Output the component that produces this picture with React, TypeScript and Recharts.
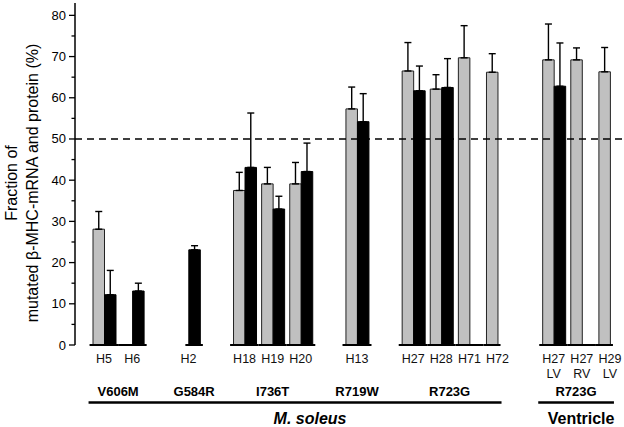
import React from 'react';
import { BarChart, Bar, XAxis, YAxis, ErrorBar, ReferenceLine } from 'recharts';

// patient samples, '' = empty slot between mutation groups
const samples = ['H5', 'H6', '', 'H2', '', 'H18', 'H19', 'H20', '', 'H13', '', 'H27', 'H28', 'H71', 'H72', '', 'H27', 'H27', 'H29'];
const subLabels = ['', '', '', '', '', '', '', '', '', '', '', '', '', '', '', '', 'LV', 'RV', 'LV'];

// grey = mRNA, black = protein (%)
const greyValues = [28.1, null, null, null, null, 37.5, 39.1, 39.1, null, 57.3, null, 66.5, 62.1, 69.7, 66.2, null, 69.2, 69.2, 66.3];
const greyErrors = [4.3, null, null, null, null, 4.4, 4.0, 5.2, null, 5.3, null, 6.9, 3.5, 7.8, 4.5, null, 8.7, 2.9, 5.9];
const blackValues = [12.2, 13.1, null, 23.1, null, 43.1, 33.0, 42.1, null, 54.2, null, 61.7, 62.5, null, null, null, 62.8, null, null];
const blackErrors = [5.9, 1.9, null, 1.0, null, 13.2, 3.1, 6.9, null, 6.8, null, 6.0, 7.0, null, null, null, 10.5, null, null];

const mutations = ['V606M', 'G584R', 'I736T', 'R719W', 'R723G', 'R723G'];
const mutationFrom = [0, 3, 5, 9, 11, 16];
const mutationTo = [1, 3, 7, 9, 14, 18];

const tissues = ['M. soleus', 'Ventricle'];
const tissueFrom = [0, 16];
const tissueTo = [14, 18];

const yTicks = [0, 5, 10, 15, 20, 25, 30, 35, 40, 45, 50, 55, 60, 65, 70, 75, 80];

// layout
const W = 624;
const H = 427;
const TOP = 3;
const AXIS_W = 75;
const XAXIS_H = 82;
const PAD_L = 15;
const BAND = (W - AXIS_W - PAD_L) / samples.length;
const BAR = 11.5;
const TISSUE_SHIFT = [15, 5];
const FONT = '"Liberation Sans", Arial, sans-serif';

const chartData = samples.map((name, i) => ({
  name,
  sub: subLabels[i],
  grey: greyValues[i],
  greyErr: greyErrors[i],
  black: blackValues[i],
  blackErr: blackErrors[i],
}));

const present = (i: number) => i >= 0 && i < samples.length && samples[i] !== '';

// left / right edge of the bars drawn in slot i (centre cx)
const extent = (i: number, cx: number) => {
  const l = greyValues[i] != null ? cx - BAR : cx;
  const r = blackValues[i] != null ? cx + BAR : cx;
  return [l, r];
};

const XTick = (props: any) => {
  const { x, y, payload } = props;
  const i = props.index ?? payload.index;
  const out: React.ReactNode[] = [];

  if (present(i)) {
    const [l, r] = extent(i, x);
    const segL = present(i - 1) ? x - BAND / 2 : l - 3;
    const segR = present(i + 1) ? x + BAND / 2 : r + 3;
    out.push(<line key="base" x1={segL} x2={segR} y1={y} y2={y} stroke="#000" strokeWidth={2} />);
    out.push(
      <text key="lab" x={x} y={y + 18} textAnchor="middle" fontSize={12.5} fontFamily={FONT} fill="#111">
        {samples[i]}
      </text>
    );
    if (subLabels[i]) {
      out.push(
        <text key="sub" x={x} y={y + 32.5} textAnchor="middle" fontSize={12.5} fontFamily={FONT} fill="#111">
          {subLabels[i]}
        </text>
      );
    }
  }

  const k = mutationFrom.indexOf(i);
  if (k >= 0) {
    const l = extent(i, x)[0];
    const to = mutationTo[k];
    const r = extent(to, x + (to - i) * BAND)[1];
    out.push(
      <text key="mut" x={(l + r) / 2} y={y + 50.5} textAnchor="middle" fontSize={13} fontWeight="bold" fontFamily={FONT} fill="#000">
        {mutations[k]}
      </text>
    );
  }

  const t = tissueFrom.indexOf(i);
  if (t >= 0) {
    const l = extent(i, x)[0] - 4;
    const to = tissueTo[t];
    const r = extent(to, x + (to - i) * BAND)[1] + 4;
    out.push(<line key="tl" x1={l} x2={r} y1={y + 57.5} y2={y + 57.5} stroke="#000" strokeWidth={2.5} />);
    out.push(
      <text
        key="tt"
        x={(l + r) / 2 + TISSUE_SHIFT[t]}
        y={y + 78.5}
        textAnchor="middle"
        fontSize={16}
        fontWeight="bold"
        fontStyle={t === 0 ? 'italic' : 'normal'}
        fontFamily={FONT}
        fill="#000"
      >
        {tissues[t]}
      </text>
    );
  }

  return <g>{out}</g>;
};

const YTick = (props: any) => {
  const { x, y, payload } = props;
  const major = payload.value % 10 === 0;
  return (
    <g>
      <line x1={x - (major ? 6 : 3.5)} x2={x} y1={y} y2={y} stroke="#000" strokeWidth={1.3} />
      {major && (
        <text x={x - 9} y={y} dy={4.5} textAnchor="end" fontSize={13} fontFamily={FONT} fill="#000">
          {payload.value}
        </text>
      )}
    </g>
  );
};

const YLabel = () => {
  const cy = TOP + (H - TOP - XAXIS_H) / 2 + 9;
  return (
    <g fontSize={16} fontFamily={FONT} fill="#000">
      <text x={17} y={cy} textAnchor="middle" transform={`rotate(-90, 17, ${cy})`}>
        Fraction of
      </text>
      <text x={38} y={cy} textAnchor="middle" transform={`rotate(-90, 38, ${cy})`}>
        mutated β-MHC-mRNA and protein (%)
      </text>
    </g>
  );
};

const errRange = (key: 'greyErr' | 'blackErr') => (d: any) => (d[key] == null ? null : [0, d[key]]);

export default function App() {
  return (
    <div style={{ position: 'absolute', left: 0, top: 0, width: W, height: H, background: '#fff' }}>
      <BarChart
        width={W}
        height={H}
        data={chartData}
        margin={{ top: TOP, right: 0, bottom: 0, left: 0 }}
        barGap={0}
      >
        <XAxis
          dataKey="name"
          type="category"
          height={XAXIS_H}
          padding={{ left: PAD_L, right: 0 }}
          axisLine={false}
          tickLine={false}
          tickSize={0}
          tickMargin={0}
          interval={0}
          tick={<XTick />}
        />
        <YAxis
          width={AXIS_W}
          domain={[0, 83]}
          ticks={yTicks}
          interval={0}
          allowDataOverflow
          axisLine={{ stroke: '#000', strokeWidth: 1.5 }}
          tickLine={false}
          tickSize={0}
          tickMargin={0}
          tick={<YTick />}
          label={<YLabel />}
        />
        <ReferenceLine y={50} stroke="#000" strokeWidth={1.3} strokeDasharray="7 5" />
        <Bar dataKey="grey" fill="#c0c0c0" stroke="#222" strokeWidth={1} barSize={BAR} isAnimationActive={false}>
          <ErrorBar dataKey={errRange('greyErr')} direction="y" width={3.5} stroke="#000" strokeWidth={1.4} isAnimationActive={false} />
        </Bar>
        <Bar dataKey="black" fill="#000" stroke="#000" strokeWidth={1} barSize={BAR} isAnimationActive={false}>
          <ErrorBar dataKey={errRange('blackErr')} direction="y" width={3.5} stroke="#000" strokeWidth={1.4} isAnimationActive={false} />
        </Bar>
      </BarChart>
    </div>
  );
}
